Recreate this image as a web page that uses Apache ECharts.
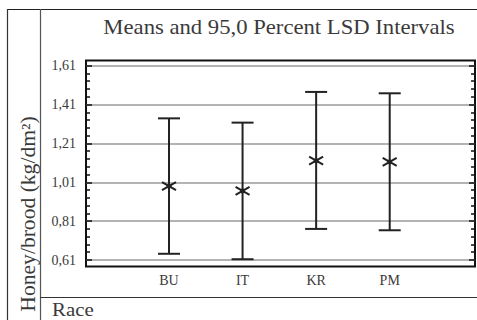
<!DOCTYPE html>
<html>
<head>
<meta charset="utf-8">
<script src="https://cdn.jsdelivr.net/npm/echarts@6/dist/echarts.min.js"></script>
<style>
  html, body { margin: 0; padding: 0; background: #fff; }
  #chart { width: 477px; height: 320px; }
</style>
</head>
<body>
<div id="chart"></div>
<script>
// Group means with 95% LSD interval limits (honey/brood, kg/dm²)
const categories = ['BU', 'IT', 'KR', 'PM'];
const means = [0.990, 0.966, 1.121, 1.115];
const lowerLimits = [0.642, 0.614, 0.770, 0.763];
const upperLimits = [1.339, 1.317, 1.475, 1.468];
const yTicks = [0.61, 0.81, 1.01, 1.21, 1.41, 1.61];

const titleText = 'Means and 95,0 Percent LSD Intervals';
const yName = 'Honey/brood (kg/dm²)';
const xName = 'Race';

const SERIF = 'Liberation Serif';
const INK = '#222';
const TXT = '#3a3a3a';

const yMin = yTicks[0];
const yMax = yTicks[yTicks.length - 1];
const yStep = Math.round((yTicks[1] - yTicks[0]) * 1000) / 1000;
const fmt = v => (Math.round(v * 100) / 100).toFixed(2).replace('.', ',');

const chart = echarts.init(document.getElementById('chart'), null, { renderer: 'svg' });

const tickAxis = (position, withLabels) => ({
  gridIndex: 1,
  type: 'value',
  position,
  min: yMin,
  max: yMax,
  interval: yStep,
  axisLine: { show: false },
  axisTick: { show: true, inside: true, length: 6, lineStyle: { color: '#111', width: 1.5 } },
  minorTick: { show: true, splitNumber: 5, length: 4, lineStyle: { color: '#111', width: 1.5 } },
  splitLine: { show: withLabels, lineStyle: { color: '#9a9a9a', width: 1.6 } },
  minorSplitLine: { show: false },
  axisLabel: withLabels
    ? { show: true, margin: 10, formatter: fmt, fontFamily: SERIF, fontSize: 14, color: TXT }
    : { show: false }
});

const option = {
  backgroundColor: '#fff',
  animation: false,
  grid: [
    // plot frame
    { left: 86, top: 60.5, width: 389, height: 206, show: true, borderColor: '#111', borderWidth: 2, backgroundColor: 'transparent' },
    // tick / gridline area
    { left: 86, top: 65.7, width: 389, height: 194.3 },
    // category data area
    { left: 132.2, top: 65.7, width: 294.3, height: 194.3 }
  ],
  xAxis: [
    { gridIndex: 0, type: 'value', show: false, min: 0, max: 1 },
    { gridIndex: 1, type: 'value', show: false, min: 0, max: 1 },
    {
      gridIndex: 2, type: 'category', data: categories, boundaryGap: true,
      axisLine: { show: false }, axisTick: { show: false }, splitLine: { show: false },
      axisLabel: { margin: 13, fontFamily: SERIF, fontSize: 14, color: TXT }
    }
  ],
  yAxis: [
    { gridIndex: 0, type: 'value', show: false, min: 0, max: 1 },
    tickAxis('left', true),
    tickAxis('right', false),
    { gridIndex: 2, type: 'value', show: false, min: yMin, max: yMax }
  ],
  series: [{
    type: 'custom',
    xAxisIndex: 2,
    yAxisIndex: 3,
    data: categories.map((c, i) => [i, lowerLimits[i], means[i], upperLimits[i]]),
    encode: { x: 0, y: [1, 2, 3] },
    renderItem: (params, api) => {
      const i = api.value(0);
      const lo = api.coord([i, api.value(1)]);
      const mid = api.coord([i, api.value(2)]);
      const hi = api.coord([i, api.value(3)]);
      const cap = 11;
      const line = { stroke: INK, lineWidth: 2 };
      const star = { stroke: INK, lineWidth: 2 };
      return {
        type: 'group',
        children: [
          { type: 'line', shape: { x1: hi[0], y1: hi[1], x2: lo[0], y2: lo[1] }, style: line },
          { type: 'line', shape: { x1: hi[0] - cap, y1: hi[1], x2: hi[0] + cap, y2: hi[1] }, style: line },
          { type: 'line', shape: { x1: lo[0] - cap, y1: lo[1], x2: lo[0] + cap, y2: lo[1] }, style: line },
          { type: 'line', shape: { x1: mid[0] - 7, y1: mid[1] - 4, x2: mid[0] + 7, y2: mid[1] + 4 }, style: star },
          { type: 'line', shape: { x1: mid[0] - 7, y1: mid[1] + 4, x2: mid[0] + 7, y2: mid[1] - 4 }, style: star },
          { type: 'circle', shape: { cx: mid[0], cy: mid[1], r: 2.5 }, style: { fill: INK } }
        ]
      };
    }
  }],
  graphic: [
    // table-cell rules around the chart
    { type: 'line', shape: { x1: 7, y1: 9.5, x2: 477, y2: 9.5 }, style: { stroke: '#222', lineWidth: 1.2 } },
    { type: 'line', shape: { x1: 7.5, y1: 9, x2: 7.5, y2: 320 }, style: { stroke: '#333', lineWidth: 1.2 } },
    { type: 'line', shape: { x1: 40.5, y1: 9, x2: 40.5, y2: 320 }, style: { stroke: '#555', lineWidth: 1.2 } },
    { type: 'line', shape: { x1: 40, y1: 297.5, x2: 477, y2: 297.5 }, style: { stroke: '#333', lineWidth: 1.2 } },
    {
      type: 'text', x: 279, y: 27, scaleX: 1.08,
      style: { text: titleText, fontFamily: SERIF, fontSize: 21, fill: TXT, align: 'center', verticalAlign: 'middle' }
    },
    {
      type: 'text', x: 28, y: 214, rotation: Math.PI / 2, scaleX: 1.08,
      style: { text: yName, fontFamily: SERIF, fontSize: 20, fill: TXT, align: 'center', verticalAlign: 'middle' }
    },
    {
      type: 'text', x: 52, y: 319, scaleX: 1.1,
      style: { text: xName, fontFamily: SERIF, fontSize: 19, fill: TXT, align: 'left', verticalAlign: 'bottom' }
    }
  ]
};

chart.setOption(option);
</script>
</body>
</html>
